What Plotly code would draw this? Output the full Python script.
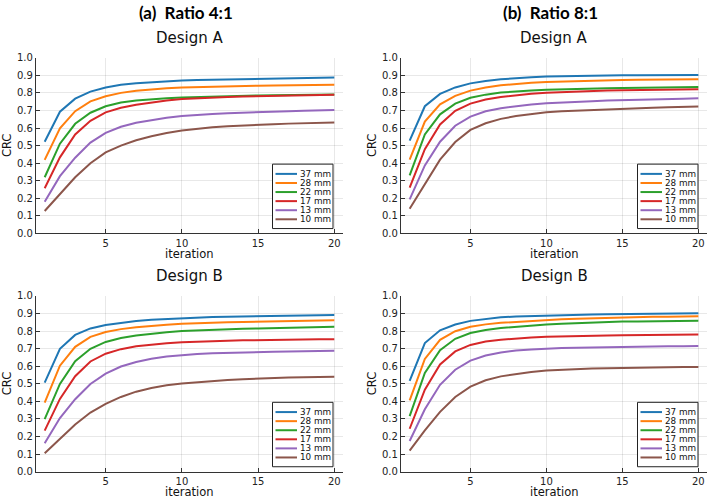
import plotly.graph_objects as go

# ---------------- data ----------------
iterations = list(range(1, 21))
sizes = ["37 mm", "28 mm", "22 mm", "17 mm", "13 mm", "10 mm"]
colors = ["#1f77b4", "#ff7f0e", "#2ca02c", "#d62728", "#9467bd", "#8c564b"]
x_ticks = [5, 10, 15, 20]
y_ticks = [0.0, 0.1, 0.2, 0.3, 0.4, 0.5, 0.6, 0.7, 0.8, 0.9, 1.0]

# Ratio 4:1, Design A
r4_designA = [
    [0.522, 0.693, 0.767, 0.807, 0.831, 0.846, 0.855, 0.861, 0.866, 0.870, 0.873, 0.875, 0.877, 0.879, 0.880, 0.882, 0.883, 0.884, 0.885, 0.887],
    [0.419, 0.598, 0.696, 0.752, 0.781, 0.800, 0.812, 0.820, 0.826, 0.830, 0.833, 0.836, 0.838, 0.840, 0.841, 0.842, 0.843, 0.844, 0.845, 0.846],
    [0.320, 0.511, 0.624, 0.687, 0.724, 0.745, 0.757, 0.765, 0.770, 0.774, 0.777, 0.779, 0.781, 0.783, 0.785, 0.786, 0.788, 0.789, 0.790, 0.791],
    [0.257, 0.433, 0.563, 0.641, 0.689, 0.715, 0.732, 0.746, 0.757, 0.765, 0.770, 0.774, 0.777, 0.780, 0.782, 0.784, 0.786, 0.787, 0.788, 0.789],
    [0.180, 0.326, 0.431, 0.517, 0.572, 0.607, 0.630, 0.646, 0.659, 0.668, 0.675, 0.680, 0.684, 0.688, 0.691, 0.694, 0.696, 0.698, 0.700, 0.702],
    [0.128, 0.224, 0.320, 0.400, 0.461, 0.500, 0.530, 0.553, 0.572, 0.586, 0.596, 0.604, 0.610, 0.615, 0.619, 0.622, 0.625, 0.627, 0.629, 0.631],
]
# Ratio 8:1, Design A
r8_designA = [
    [0.528, 0.724, 0.794, 0.831, 0.854, 0.868, 0.877, 0.884, 0.889, 0.893, 0.895, 0.897, 0.898, 0.899, 0.900, 0.900, 0.901, 0.901, 0.902, 0.902],
    [0.420, 0.637, 0.735, 0.783, 0.813, 0.831, 0.843, 0.851, 0.857, 0.862, 0.865, 0.868, 0.870, 0.872, 0.874, 0.875, 0.876, 0.877, 0.877, 0.878],
    [0.331, 0.563, 0.678, 0.739, 0.772, 0.790, 0.802, 0.809, 0.814, 0.818, 0.821, 0.823, 0.825, 0.827, 0.828, 0.829, 0.830, 0.831, 0.832, 0.833],
    [0.261, 0.480, 0.620, 0.698, 0.739, 0.762, 0.777, 0.787, 0.795, 0.801, 0.805, 0.808, 0.811, 0.813, 0.815, 0.816, 0.817, 0.818, 0.819, 0.820],
    [0.194, 0.387, 0.522, 0.613, 0.665, 0.695, 0.713, 0.725, 0.734, 0.741, 0.746, 0.750, 0.753, 0.756, 0.759, 0.761, 0.763, 0.765, 0.767, 0.769],
    [0.141, 0.283, 0.420, 0.520, 0.589, 0.627, 0.652, 0.668, 0.681, 0.690, 0.696, 0.700, 0.704, 0.708, 0.711, 0.714, 0.716, 0.718, 0.720, 0.722],
]
# Ratio 4:1, Design B
r4_designB = [
    [0.506, 0.699, 0.778, 0.815, 0.835, 0.848, 0.857, 0.864, 0.869, 0.874, 0.877, 0.880, 0.882, 0.884, 0.885, 0.887, 0.888, 0.889, 0.890, 0.891],
    [0.392, 0.603, 0.710, 0.767, 0.795, 0.811, 0.822, 0.830, 0.836, 0.841, 0.845, 0.848, 0.850, 0.852, 0.854, 0.856, 0.857, 0.859, 0.860, 0.861],
    [0.299, 0.499, 0.628, 0.699, 0.738, 0.760, 0.775, 0.785, 0.793, 0.800, 0.804, 0.808, 0.811, 0.813, 0.815, 0.817, 0.819, 0.821, 0.823, 0.824],
    [0.233, 0.414, 0.543, 0.627, 0.671, 0.697, 0.713, 0.723, 0.730, 0.736, 0.740, 0.743, 0.745, 0.747, 0.749, 0.750, 0.751, 0.752, 0.753, 0.754],
    [0.161, 0.305, 0.412, 0.499, 0.558, 0.598, 0.624, 0.642, 0.655, 0.664, 0.670, 0.674, 0.677, 0.679, 0.680, 0.682, 0.684, 0.685, 0.687, 0.688],
    [0.105, 0.189, 0.268, 0.336, 0.386, 0.425, 0.455, 0.476, 0.491, 0.501, 0.509, 0.516, 0.521, 0.526, 0.530, 0.533, 0.535, 0.537, 0.539, 0.540],
]
# Ratio 8:1, Design B
r8_designB = [
    [0.516, 0.732, 0.804, 0.837, 0.858, 0.870, 0.878, 0.883, 0.886, 0.889, 0.891, 0.893, 0.894, 0.895, 0.896, 0.897, 0.898, 0.899, 0.901, 0.902],
    [0.405, 0.641, 0.750, 0.799, 0.824, 0.838, 0.847, 0.853, 0.859, 0.863, 0.867, 0.870, 0.873, 0.876, 0.878, 0.879, 0.881, 0.882, 0.883, 0.884],
    [0.316, 0.562, 0.691, 0.756, 0.789, 0.806, 0.817, 0.825, 0.831, 0.837, 0.841, 0.845, 0.848, 0.851, 0.854, 0.855, 0.856, 0.857, 0.858, 0.858],
    [0.244, 0.466, 0.610, 0.684, 0.721, 0.740, 0.751, 0.758, 0.763, 0.767, 0.770, 0.772, 0.774, 0.775, 0.776, 0.777, 0.778, 0.779, 0.780, 0.780],
    [0.174, 0.355, 0.494, 0.580, 0.632, 0.661, 0.678, 0.689, 0.695, 0.700, 0.703, 0.705, 0.707, 0.708, 0.709, 0.710, 0.711, 0.713, 0.714, 0.715],
    [0.120, 0.235, 0.340, 0.425, 0.484, 0.520, 0.542, 0.556, 0.567, 0.575, 0.580, 0.584, 0.587, 0.589, 0.591, 0.592, 0.593, 0.594, 0.595, 0.595],
]

panel_titles = ["Design A", "Design A", "Design B", "Design B"]
column_titles = ["(a)\u00a0 Ratio 4:1", "(b)\u00a0 Ratio 8:1"]

# ---------------- layout helpers ----------------
W, H = 708, 503
def px(x):
    return x / W
def py(y):
    return 1 - y / H

# plot-area boxes in pixels (left, right, top, bottom)
boxes = [(36, 343, 53, 233), (401, 707, 53, 233), (36, 343, 297, 477), (401, 707, 297, 477)]
datasets = [r4_designA, r8_designA, r4_designB, r8_designB]

TXT = "DejaVu Sans"
fig = go.Figure()
annotations = []
shapes = []

for k, (data, (x0, x1, y0, y1)) in enumerate(zip(datasets, boxes)):
    n = k + 1
    xa = "x" if n == 1 else f"x{n}"
    ya = "y" if n == 1 else f"y{n}"
    for s, (vals, name, col) in enumerate(zip(data, sizes, colors)):
        fig.add_trace(go.Scatter(x=iterations, y=vals, mode="lines", name=name,
                                 line=dict(color=col, width=2), showlegend=False,
                                 hoverinfo="skip", xaxis=xa, yaxis=ya))
    axis_common = dict(showline=True, linecolor="#333333", linewidth=1.2, mirror=False,
                       ticks="inside", ticklen=4, tickcolor="#333333", tickwidth=1,
                       showgrid=True, gridcolor="rgba(0,0,0,0.09)", gridwidth=0.6,
                       zeroline=False, tickfont=dict(family=TXT, size=10, color="#222222"))
    fig.layout[f"xaxis{'' if n == 1 else n}"] = dict(
        domain=[px(x0), px(x1)], anchor=ya, range=[0.43, 20.57],
        tickmode="array", tickvals=x_ticks, ticktext=[str(t) for t in x_ticks], **axis_common)
    fig.layout[f"yaxis{'' if n == 1 else n}"] = dict(
        domain=[py(y1), py(y0)], anchor=xa, range=[0, 1],
        tickmode="array", tickvals=y_ticks, ticktext=[f"{t:.1f}" for t in y_ticks], **axis_common)

    cx = (x0 + x1) / 2
    annotations.append(dict(text=panel_titles[k], x=px(cx), y=py(y0 - 20), xref="paper", yref="paper",
                            showarrow=False, xanchor="center", yanchor="middle",
                            font=dict(family=TXT, size=15, color="#111111")))
    annotations.append(dict(text="iteration", x=px(cx), y=py(y1 + 21), xref="paper", yref="paper",
                            showarrow=False, xanchor="center", yanchor="middle",
                            font=dict(family=TXT, size=11.5, color="#111111")))
    annotations.append(dict(text="CRC", x=px(x0 - 29.5), y=py((y0 + y1) / 2), xref="paper", yref="paper",
                            showarrow=False, xanchor="center", yanchor="middle", textangle=-90,
                            font=dict(family=TXT, size=11.5, color="#111111")))

    # legend box
    bl, br = x0 + 236.5, x0 + 297
    bt, bb = y0 + 109, y0 + 175
    shapes.append(dict(type="rect", xref="paper", yref="paper", x0=px(bl), x1=px(br), y0=py(bb), y1=py(bt),
                       line=dict(color="#222222", width=1), fillcolor="white", layer="above"))
    for s, (name, col) in enumerate(zip(sizes, colors)):
        iy = bt + 10 + 9.3 * s
        shapes.append(dict(type="line", xref="paper", yref="paper", x0=px(bl + 3), x1=px(bl + 24.5),
                           y0=py(iy), y1=py(iy), line=dict(color=col, width=2), layer="above"))
        annotations.append(dict(text=name, x=px(bl + 25.5), y=py(iy), xref="paper", yref="paper",
                                showarrow=False, xanchor="left", yanchor="middle",
                                font=dict(family=TXT, size=8.8, color="#111111")))

for cx, t in zip([186, 550], column_titles):
    annotations.append(dict(text="<b>" + t + "</b>", x=px(cx), y=py(7), xref="paper", yref="paper",
                            showarrow=False, xanchor="center", yanchor="middle",
                            font=dict(family="Lato", size=17, color="#000000")))

fig.update_layout(width=W, height=H, margin=dict(l=0, r=0, t=0, b=0),
                  paper_bgcolor="white", plot_bgcolor="white",
                  annotations=annotations, shapes=shapes, showlegend=False)

fig.write_html("out.html", config={"displayModeBar": False},
               post_script="document.body.style.margin='0';document.body.style.overflow='hidden';")
